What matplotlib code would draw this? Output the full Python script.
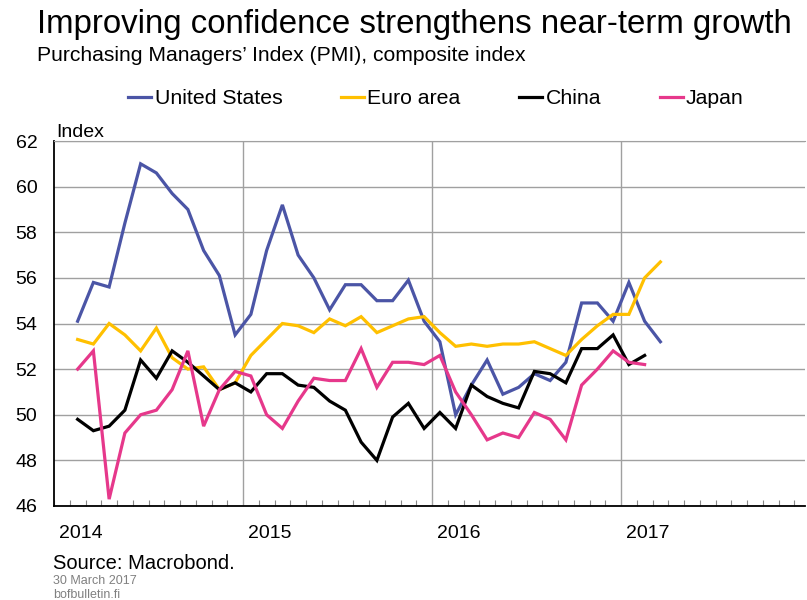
import matplotlib

matplotlib.use("Agg")
import matplotlib.pyplot as plt
import matplotlib.transforms as mtransforms
import numpy as np
from matplotlib.ticker import MultipleLocator, FixedLocator, NullFormatter

plt.rcParams["font.family"] = ["Liberation Sans", "DejaVu Sans"]

# --- data: monthly composite PMI, first value = Feb 2014 ---
us = [54.1, 55.8, 55.6, 58.4, 61.0, 60.6, 59.7, 59.0, 57.2, 56.1, 53.5,
      54.4, 57.2, 59.2, 57.0, 56.0, 54.6, 55.7, 55.7, 55.0, 55.0, 55.9, 54.1,
      53.2, 50.0, 51.3, 52.4, 50.9, 51.2, 51.8, 51.5, 52.3, 54.9, 54.9, 54.1,
      55.8, 54.1, 53.2]
euro = [53.3, 53.1, 54.0, 53.5, 52.8, 53.8, 52.5, 52.0, 52.1, 51.1, 51.4,
        52.6, 53.3, 54.0, 53.9, 53.6, 54.2, 53.9, 54.3, 53.6, 53.9, 54.2, 54.3,
        53.6, 53.0, 53.1, 53.0, 53.1, 53.1, 53.2, 52.9, 52.6, 53.3, 53.9, 54.4,
        54.4, 56.0, 56.7]
china = [49.8, 49.3, 49.5, 50.2, 52.4, 51.6, 52.8, 52.3, 51.7, 51.1, 51.4,
         51.0, 51.8, 51.8, 51.3, 51.2, 50.6, 50.2, 48.8, 48.0, 49.9, 50.5, 49.4,
         50.1, 49.4, 51.3, 50.8, 50.5, 50.3, 51.9, 51.8, 51.4, 52.9, 52.9, 53.5,
         52.2, 52.6]
japan = [52.0, 52.8, 46.3, 49.2, 50.0, 50.2, 51.1, 52.8, 49.5, 51.1, 51.9,
         51.7, 50.0, 49.4, 50.6, 51.6, 51.5, 51.5, 52.9, 51.2, 52.3, 52.3, 52.2,
         52.6, 51.0, 50.0, 48.9, 49.2, 49.0, 50.1, 49.8, 48.9, 51.3, 52.0, 52.8,
         52.3, 52.2]
years = ["2014", "2015", "2016", "2017"]
series = [("United States", us, "#4b55a6"),
          ("Euro area", euro, "#ffc000"),
          ("China", china, "#000000"),
          ("Japan", japan, "#e6388b")]

GRID = "#a0a0a0"

fig = plt.figure(figsize=(8.07, 6.0), dpi=100)
ax = fig.add_axes([54 / 807, 1 - 506 / 600, 751 / 807, 365 / 600])

# x in months since Jan 2014, points at mid-month
for name, vals, color in series:
    x = np.arange(len(vals)) + 1.5
    ax.plot(x, vals, color=color, lw=2.3, label=name, solid_joinstyle="miter")

ax.set_xlim(0, 751 / 15.75)
ax.set_ylim(46, 62)
ax.set_yticks(range(46, 63, 2))
ax.tick_params(axis="y", length=0, pad=12, labelsize=14, colors="#000000")

ax.xaxis.set_major_locator(FixedLocator([12, 24, 36]))
ax.xaxis.set_major_formatter(NullFormatter())
ax.xaxis.set_minor_locator(MultipleLocator(1))
ax.tick_params(axis="x", which="major", length=0)
ax.tick_params(axis="x", which="minor", direction="in", length=4, width=0.8, color="#888888")

ax.grid(True, axis="both", which="major", color=GRID, lw=1.0)
ax.set_axisbelow(True)
for s in ("left", "bottom"):
    ax.spines[s].set_color("#000000")
    ax.spines[s].set_linewidth(1.3)
ax.spines["top"].set_color(GRID)
ax.spines["right"].set_visible(False)

# year labels: data x, figure y
trans = mtransforms.blended_transform_factory(ax.transData, fig.transFigure)
for i, yr in enumerate(years):
    ax.text(i * 12 + 1.7, 1 - 538 / 600, yr, transform=trans,
            fontsize=14, ha="center", va="baseline")

fig.text(56 / 807, 1 - 137 / 600, "Index", fontsize=14, va="baseline")

fig.text(37 / 807, 1 - 33 / 600, "Improving confidence strengthens near-term growth",
         fontsize=23.8, va="baseline")
fig.text(37 / 807, 1 - 61 / 600, "Purchasing Managers\u2019 Index (PMI), composite index",
         fontsize=15.2, va="baseline")

fig.legend(loc="upper left", bbox_to_anchor=(128 / 807, 1 - 89 / 600), ncol=4,
           frameon=False, fontsize=15.3, handlelength=1.1, handletextpad=0.15,
           columnspacing=2.75, borderpad=0, borderaxespad=0)

fig.text(53 / 807, 1 - 569 / 600, "Source: Macrobond.", fontsize=14.5, va="baseline")
fig.text(53 / 807, 1 - 584 / 600, "30 March 2017", fontsize=9, color="#808080", va="baseline")
fig.text(53 / 807, 1 - 598 / 600, "bofbulletin.fi", fontsize=9, color="#808080", va="baseline")

fig.savefig("out.png", dpi=100)
